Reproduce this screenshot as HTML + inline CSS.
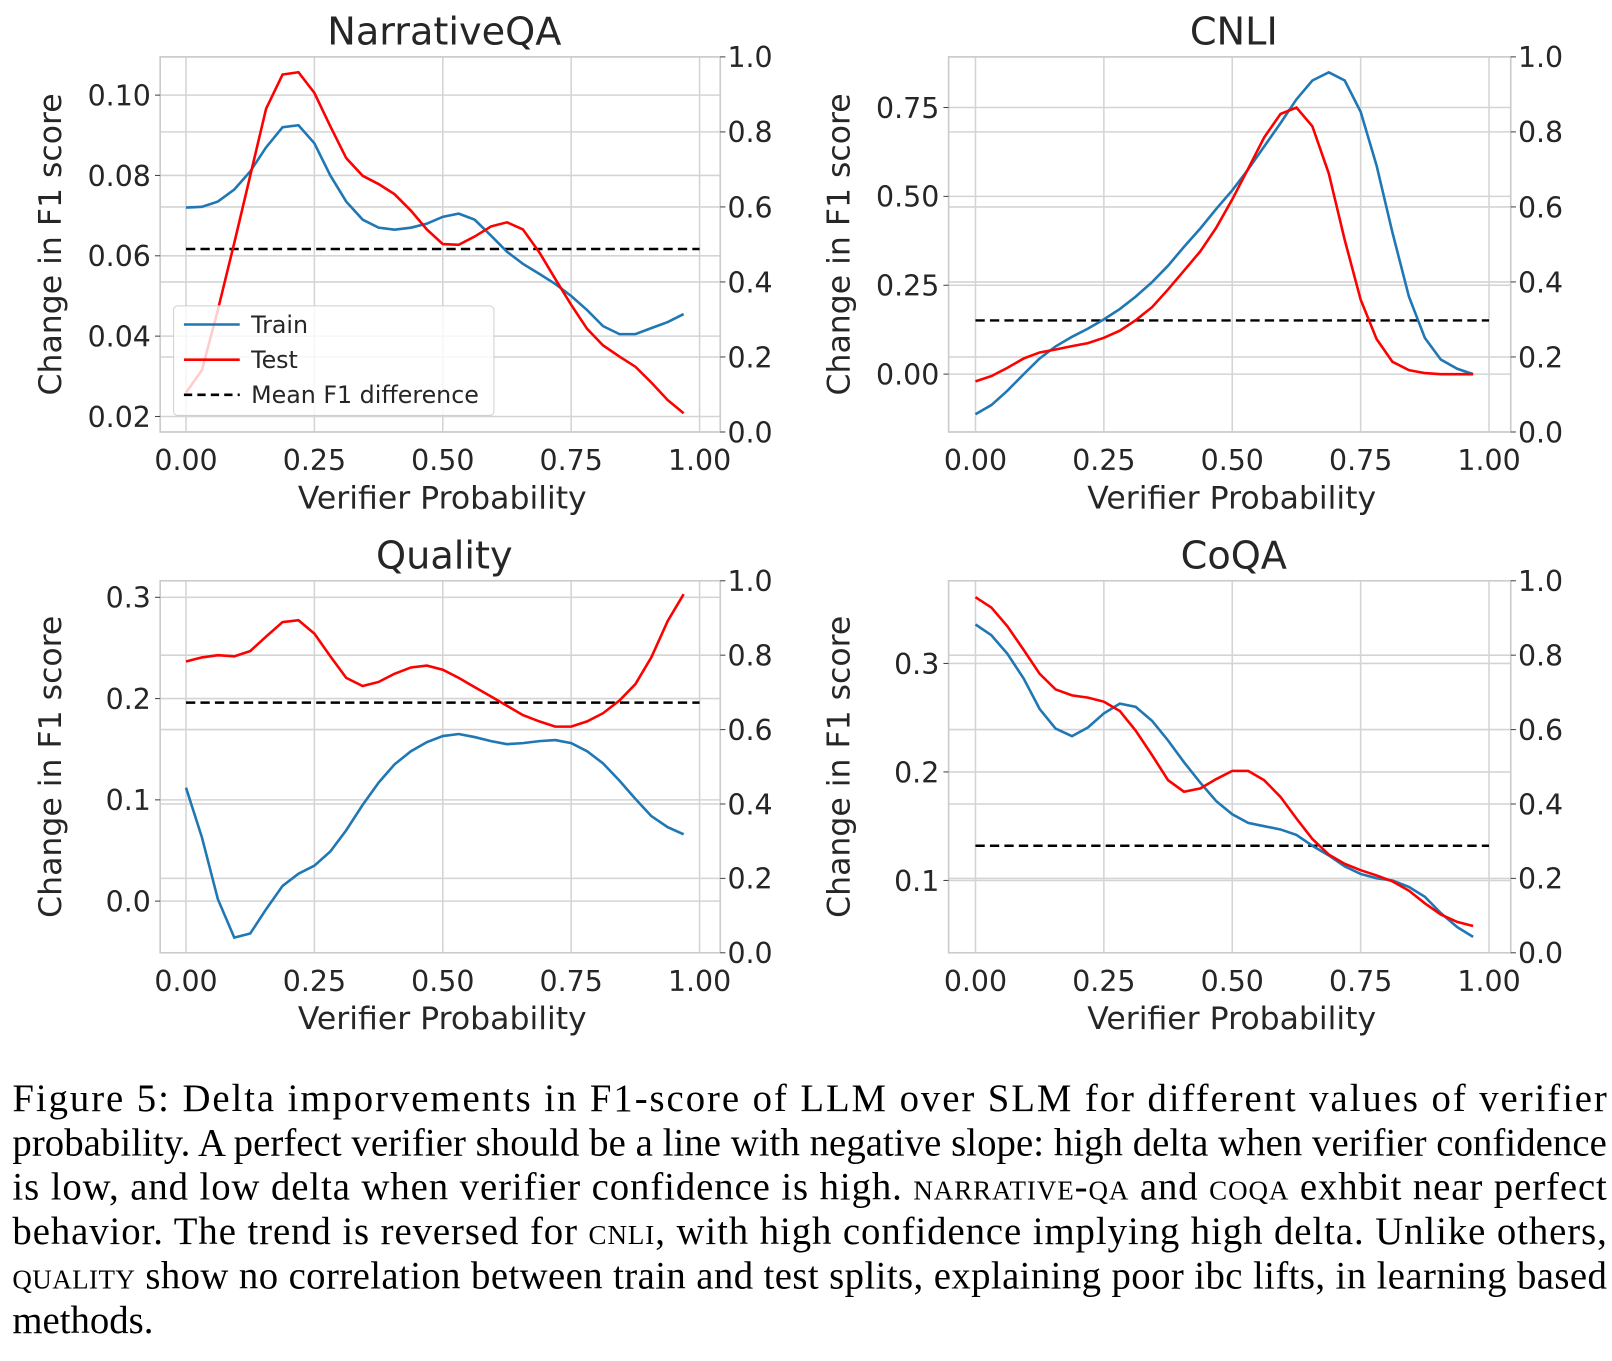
<!DOCTYPE html>
<html><head><meta charset="utf-8"><style>
html,body{margin:0;padding:0;background:#fff;width:1612px;height:1361px;overflow:hidden}
svg{display:block}
.tk{font-family:"DejaVu Sans","Liberation Sans",sans-serif;font-size:27.5px;fill:#262626}
.ttl{font-family:"DejaVu Sans","Liberation Sans",sans-serif;font-size:37px;fill:#262626}
.lab{font-family:"DejaVu Sans","Liberation Sans",sans-serif;font-size:30.5px;fill:#262626}
.leg{font-family:"DejaVu Sans","Liberation Sans",sans-serif;font-size:23px;fill:#262626}
.cap{font-family:"Liberation Serif","Times New Roman",serif;font-size:37.5px;fill:#000}
.sc{font-variant:small-caps}
</style></head><body>
<svg id="fig" width="1612" height="1361" viewBox="0 0 1560 1317" xmlns="http://www.w3.org/2000/svg">
<g id="charts"></g>
<g>
<text class="cap" x="12" y="1075" textLength="1543" lengthAdjust="spacing">Figure 5:  Delta imporvements in F1-score of LLM over SLM for different values of verifier</text>
<text class="cap" x="12" y="1118" textLength="1543" lengthAdjust="spacing">probability. A perfect verifier should be a line with negative slope: high delta when verifier confidence</text>
<text class="cap" x="12" y="1161" textLength="1543" lengthAdjust="spacing">is low, and low delta when verifier confidence is high. <tspan class="sc">narrative-qa</tspan> and <tspan class="sc">coqa</tspan> exhbit near perfect</text>
<text class="cap" x="12" y="1204" textLength="1543" lengthAdjust="spacing">behavior. The trend is reversed for <tspan class="sc">cnli</tspan>, with high confidence implying high delta. Unlike others,</text>
<text class="cap" x="12" y="1247" textLength="1543" lengthAdjust="spacing"><tspan class="sc">quality</tspan> show no correlation between train and test splits, explaining poor ibc lifts, in learning based</text>
<text class="cap" x="12" y="1290">methods.</text>
</g>
</svg>
<script>
const xs = [0,0.031,0.062,0.094,0.125,0.156,0.188,0.219,0.25,0.281,0.312,0.344,0.375,0.406,0.438,0.469,0.5,0.531,0.562,0.594,0.625,0.656,0.688,0.719,0.75,0.781,0.812,0.844,0.875,0.906,0.938,0.969];
const nqaTrain = [.072,.0722,.0735,.0765,.081,.087,.092,.0925,.088,.080,.0735,.069,.067,.0665,.067,.068,.0697,.0705,.069,.065,.061,.058,.0555,.053,.050,.0465,.0425,.0405,.0405,.042,.0435,.0455];
const nqaTest = [.105,.165,.325,.504,.683,.862,.953,.959,.904,.815,.730,.683,.661,.634,.590,.540,.501,.499,.521,.548,.559,.540,.479,.408,.339,.275,.231,.201,.174,.132,.085,.050];
const nqaMean = [0.0617];
const cnliTrain = [-.113,-.087,-.047,0,.044,.078,.105,.128,.154,.183,.218,.259,.305,.358,.410,.465,.517,.576,.640,.706,.773,.826,.849,.826,.738,.587,.398,.218,.102,.041,.015,0];
const cnliTest = [.135,.149,.171,.196,.212,.220,.229,.237,.251,.270,.298,.333,.380,.430,.482,.545,.620,.702,.785,.848,.865,.815,.689,.512,.353,.248,.187,.165,.157,.154,.154,.154];
const cnliMean = [0.151];
const qualTrain = [.112,.063,.002,-.036,-.032,-.008,.015,.027,.035,.049,.070,.095,.117,.135,.148,.157,.163,.165,.162,.158,.155,.156,.158,.159,.156,.148,.136,.119,.101,.084,.073,.066];
const qualTest = [.783,.794,.800,.797,.811,.850,.889,.894,.858,.797,.739,.717,.728,.750,.767,.772,.761,.739,.714,.689,.664,.639,.622,.608,.608,.622,.644,.678,.722,.794,.892,.964];
const qualMean = [0.196];
const coqaTrain = [.336,.326,.309,.286,.258,.240,.233,.241,.254,.263,.260,.247,.229,.209,.190,.173,.161,.153,.150,.147,.142,.132,.123,.113,.106,.102,.100,.094,.085,.070,.057,.048];
const coqaTest = [.956,.928,.878,.814,.750,.708,.692,.686,.675,.650,.597,.531,.464,.433,.442,.467,.489,.489,.464,.419,.361,.306,.264,.239,.222,.208,.192,.167,.133,.103,.083,.072];
const coqaMean = [0.132];
const xTicks = ["0.00","0.25","0.50","0.75","1.00"];
const rightTicks = ["0.0","0.2","0.4","0.6","0.8","1.0"];

const panels = [
 {name:"narrativeqa",title:"NarrativeQA",L:155,R:697,T:55,B:418,x0:180,x1:677,ly:[0.02,403,0.10,92],lt:["0.02","0.04","0.06","0.08","0.10"],train:nqaTrain,test:nqaTest,mean:nqaMean,legend:true},
 {name:"cnli",title:"CNLI",L:918,R:1462,T:55,B:418,x0:944,x1:1441,ly:[0,362,0.75,104],lt:["0.00","0.25","0.50","0.75"],train:cnliTrain,test:cnliTest,mean:cnliMean},
 {name:"quality",title:"Quality",L:155,R:697,T:562,B:922,x0:180,x1:677,ly:[0,872,0.3,578],lt:["0.0","0.1","0.2","0.3"],train:qualTrain,test:qualTest,mean:qualMean},
 {name:"coqa",title:"CoQA",L:918,R:1462,T:562,B:922,x0:944,x1:1441,ly:[0.1,852,0.3,642],lt:["0.1","0.2","0.3"],train:coqaTrain,test:coqaTest,mean:coqaMean}
];
const NS="http://www.w3.org/2000/svg";
function mk(tag,attrs,parent,txt){const e=document.createElementNS(NS,tag);for(const k in attrs)e.setAttribute(k,attrs[k]);if(txt!==undefined)e.textContent=txt;parent.appendChild(e);return e;}
const root=document.getElementById('charts');
panels.forEach(p=>{
 const g=mk('g',{},root);
 
 
 const sx=v=>p.x0+v*(p.x1-p.x0);
 const sy=v=>p.ly[1]+(v-p.ly[0])*(p.ly[3]-p.ly[1])/(p.ly[2]-p.ly[0]);
 const sr=v=>p.B+v*(p.T-p.B);
 xTicks.forEach(t=>{const x=sx(+t);const l=mk('line',{x1:x,x2:x,y1:p.T,y2:p.B,stroke:'#d4d4d4','stroke-width':1.5},g);
  
  });
 p.lt.forEach(t=>{const y=sy(+t);const l=mk('line',{x1:p.L,x2:p.R,y1:y,y2:y,stroke:'#d4d4d4','stroke-width':1.5},g);
  
  });
 rightTicks.forEach(t=>{const y=sr(+t);const l=mk('line',{x1:p.L,x2:p.R,y1:y,y2:y,stroke:'#d4d4d4','stroke-width':1.5},g);
  
  });
 const fr=mk('rect',{x:p.L,y:p.T,width:p.R-p.L,height:p.B-p.T,fill:'none',stroke:'#cccccc','stroke-width':1.6},g);
 
 
 xTicks.forEach(t=>{const e=mk('text',{class:'tk',x:sx(+t),y:p.B+37,'text-anchor':'middle'},g,t);
  
  });
 p.lt.forEach(t=>{const y=sy(+t);mk('line',{x1:p.L-5,x2:p.L,y1:y,y2:y,stroke:'#444','stroke-width':1},g);
  const e=mk('text',{class:'tk',x:p.L-9,y:y+10,'text-anchor':'end'},g,t);
  
  });
 rightTicks.forEach(t=>{const y=sr(+t);mk('line',{x1:p.R,x2:p.R+5,y1:y,y2:y,stroke:'#444','stroke-width':1},g);
  const e=mk('text',{class:'tk',x:p.R+7,y:y+10},g,t);
  
  });
 const ti=mk('text',{class:'ttl',x:(p.L+p.R)/2+4,y:p.T-12,'text-anchor':'middle'},g,p.title);
 
 
 const xl=mk('text',{class:'lab',x:(p.L+p.R)/2+2,y:p.B+74,'text-anchor':'middle'},g,'Verifier Probability');
 
 
 const lx=p.L-96, ly=(p.T+p.B)/2;
 const yl=mk('text',{class:'lab',x:lx,y:ly,'text-anchor':'middle',transform:`rotate(-90 ${lx} ${ly})`},g,'Change in F1 score');
 
 
 const m=mk('line',{x1:sx(xs[0]),x2:sx(1),y1:sy(p.mean[0]),y2:sy(p.mean[0]),stroke:'#000','stroke-width':2.4,'stroke-dasharray':'9,5'},g);
 
 
 const tr=mk('polyline',{points:xs.map((x,i)=>sx(x)+','+sy(p.train[i])).join(' '),fill:'none',stroke:'#1f77b4','stroke-width':2.5},g);
 
 
 const te=mk('polyline',{points:xs.map((x,i)=>sx(x)+','+sr(p.test[i])).join(' '),fill:'none',stroke:'#ff0000','stroke-width':2.5},g);
 
 
 if(p.legend){
  const lg=mk('g',{},g);
  
  
  mk('rect',{x:168,y:296,width:310,height:106,rx:4,fill:'#fff','fill-opacity':0.8,stroke:'#d0d0d0','stroke-width':1},lg);
  [['Train','#1f77b4',''],['Test','#ff0000',''],['Mean F1 difference','#000','8,5']].forEach((d,i)=>{
   const y=314+i*34;
   const e=mk('g',{},lg);
   
   
   mk('line',{x1:178,x2:232,y1:y,y2:y,stroke:d[1],'stroke-width':2.5,'stroke-dasharray':d[2]||'none'},e);
   mk('text',{class:'leg',x:243,y:y+8},e,d[0]);
  });
 }
});
</script>
</body></html>
